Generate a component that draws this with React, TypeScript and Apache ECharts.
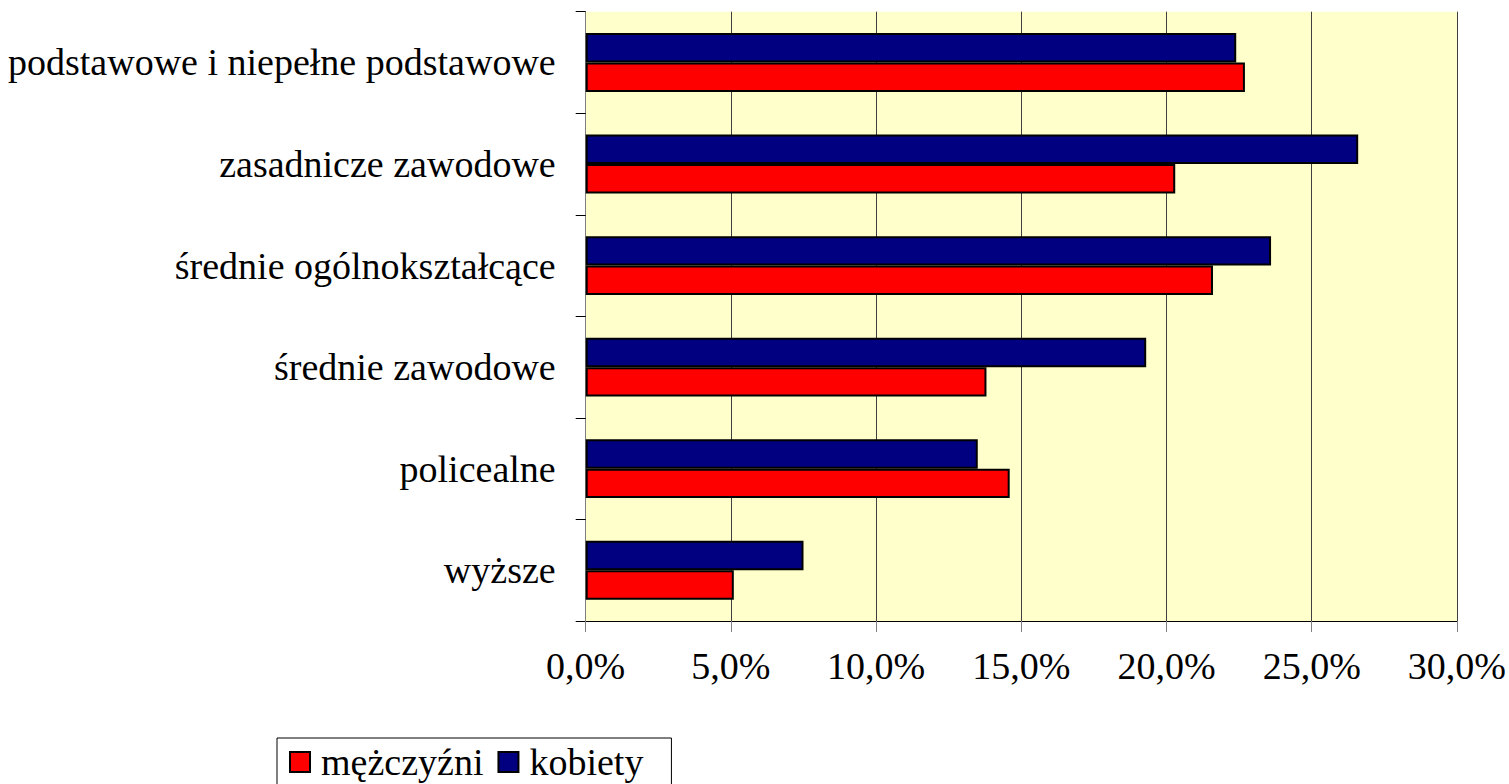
import React, { useEffect, useRef } from "react";
import * as echarts from "echarts";

const categories = [
  "podstawowe i niepełne podstawowe",
  "zasadnicze zawodowe",
  "średnie ogólnokształcące",
  "średnie zawodowe",
  "policealne",
  "wyższe",
];
const mezczyzni = [22.7, 20.3, 21.6, 13.8, 14.6, 5.1];
const kobiety = [22.4, 26.6, 23.6, 19.3, 13.5, 7.5];
const seriesNames = ["mężczyźni", "kobiety"];
const xTicks = { min: 0, max: 30, interval: 5 };

const FONT = "'Liberation Serif', 'Times New Roman', serif";

export default function App() {
  const ref = useRef<HTMLDivElement>(null);
  useEffect(() => {
    document.body.style.margin = "0";
    const chart = echarts.init(ref.current!, null, { renderer: "svg" });
    chart.setOption({
      animation: false,
      backgroundColor: "#ffffff",
      grid: {
        left: 585.7,
        right: 45,
        top: 11.7,
        bottom: 163,
        show: true,
        backgroundColor: "#FFFFCC",
        borderWidth: 0,
        containLabel: false,
      },
      legend: {
        data: seriesNames,
        icon: "rect",
        left: 277,
        top: 738,
        orient: "horizontal",
        itemWidth: 20,
        itemHeight: 20,
        itemGap: 14,
        padding: [5, 28, 20, 12],
        borderColor: "#000",
        borderWidth: 1,
        textStyle: { fontFamily: FONT, fontSize: 38, color: "#000", padding: [0, 0, 0, 6] },
      },
      xAxis: {
        type: "value",
        min: xTicks.min,
        max: xTicks.max,
        interval: xTicks.interval,
        axisLine: { show: true, lineStyle: { color: "#000", width: 1 } },
        axisTick: { show: true, length: 11, lineStyle: { color: "#808080", width: 1 } },
        axisLabel: {
          fontFamily: FONT,
          fontSize: 38,
          color: "#000",
          margin: 26,
          formatter: (v: number) => v.toFixed(1).replace(".", ",") + "%",
        },
        splitLine: { show: true, lineStyle: { color: "#404040", width: 1 } },
      },
      yAxis: {
        type: "category",
        data: categories,
        inverse: true,
        axisLine: { show: true, lineStyle: { color: "#808080", width: 1 } },
        axisTick: { show: true, length: 10, inside: false, lineStyle: { color: "#000", width: 1 } },
        axisLabel: { fontFamily: FONT, fontSize: 38, color: "#000", margin: 30 },
        splitLine: { show: false },
      },
      series: [
        {
          name: seriesNames[1],
          type: "bar",
          data: kobiety,
          barGap: "0%",
          barCategoryGap: "42%",
          itemStyle: { color: "#000080", borderColor: "#000", borderWidth: 2 },
        },
        {
          name: seriesNames[0],
          type: "bar",
          data: mezczyzni,
          barGap: "0%",
          barCategoryGap: "42%",
          itemStyle: { color: "#FF0000", borderColor: "#000", borderWidth: 2 },
        },
      ],
    });
    return () => chart.dispose();
  }, []);
  return (
    <div
      ref={ref}
      style={{ position: "fixed", left: 0, top: 0, width: 1509, height: 784 }}
    />
  );
}
